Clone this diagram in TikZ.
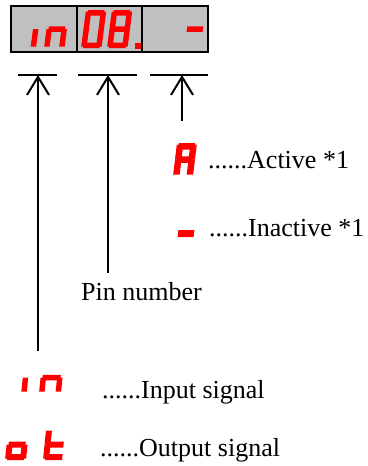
\documentclass[tikz,border=0pt]{standalone}
\usepackage{fontspec}
\setmainfont{Liberation Serif}
\usetikzlibrary{arrows.meta}

\definecolor{ledred}{RGB}{255,0,0}
\definecolor{panelgray}{RGB}{192,192,192}

% Seven-segment glyph: origin at the bottom-left of the cell,
% width \gW, height \gH, segment thickness \gT (y grows downward).
\newcommand\ssa{\fill[ledred] (2,-\gH) rectangle (\gW-2,-\gH+\gT);}
\newcommand\ssb{\fill[ledred] (\gW-\gT,-\gH+1.5) rectangle (\gW,-\gH/2);}
\newcommand\ssc{\fill[ledred] (\gW-\gT,-\gH/2) rectangle (\gW,-1.5);}
\newcommand\ssd{\fill[ledred] (2,-\gT) rectangle (\gW-2,0);}
\newcommand\sse{\fill[ledred] (0,-\gH/2) rectangle (\gT,-1.5);}
\newcommand\ssf{\fill[ledred] (0,-\gH+1.5) rectangle (\gT,-\gH/2);}
\newcommand\ssg{\fill[ledred] (2,-\gH/2-\gT/2) rectangle (\gW-2,-\gH/2+\gT/2);}
% #1 slant, (#2,#3) bottom-left, #4 width, #5 height, #6 thickness, #7 segments
\newcommand\sevseg[7]{%
  \begin{scope}[shift={(#2,#3)},xslant=#1]
    \def\gW{#4}\def\gH{#5}\def\gT{#6}%
    #7
  \end{scope}}

\begin{document}
\begin{tikzpicture}[x=1pt,y=-1pt,
    legend/.style={anchor=base west,inner sep=0pt,
      font=\fontsize{26}{30}\selectfont},
    bar/.style={line width=1.6pt},
    ptr/.style={line width=2pt,
      -{Straight Barb[length=18pt,width=22pt,line width=2pt]}}]
  \useasboundingbox (0,0) rectangle (367,466);

  % display panel with three fields
  \draw[fill=panelgray,line width=1.8pt] (11,6) rectangle (208,52);
  \draw[line width=1.8pt] (77,6) -- (77,52) (142,6) -- (142,52);

  % field 1: "in"
  \sevseg{0.13}{16}{48}{20}{38}{5.5}{\ssc}
  \sevseg{0.13}{44}{48}{20.5}{38}{5.5}{\ssc\sse\ssg}
  % field 2: "08."
  \sevseg{0.13}{81}{48}{20.5}{38}{5.5}{\ssa\ssb\ssc\ssd\sse\ssf}
  \sevseg{0.13}{107}{48}{20.5}{38}{5.5}{\ssa\ssb\ssc\ssd\sse\ssf\ssg}
  \fill[ledred] (135,42.5) rectangle (140.5,48.5);
  % field 3: "-"
  \sevseg{0.13}{182.5}{48}{20}{38}{5.5}{\ssg}

  % brackets under the fields
  \coordinate (b1l) at (18,75);  \coordinate (b1r) at (57,75);
  \coordinate (b2l) at (78,75);  \coordinate (b2r) at (137,75);
  \coordinate (b3l) at (150,75); \coordinate (b3r) at (208,75);
  \draw[bar] (b1l) -- (b1r);
  \draw[bar] (b2l) -- (b2r);
  \draw[bar] (b3l) -- (b3r);
  \coordinate (tip1) at (38,75);
  \coordinate (tip2) at (108,75);
  \coordinate (tip3) at (182,75);

  % legend for field 3
  \sevseg{0.12}{173}{176}{20}{33}{6.5}{\ssa\ssb\ssc\sse\ssf\ssg}
  \node[legend] (act) at (208,168) {......Active *1};
  \sevseg{0.12}{174}{250}{20}{33}{7}{\ssg}
  \node[legend] (inact) at (209,236) {......Inactive *1};

  % legend for field 2
  \node[legend] (pin) at (81,300) {Pin number};

  % legend for field 1
  \sevseg{0.1}{4.7}{393}{22}{31}{5.5}{\ssc}
  \sevseg{0.1}{39}{393}{22}{31}{5.5}{\ssc\sse\ssg}
  \node[legend] (insig) at (102,398) {......Input signal};
  \sevseg{0.1}{5}{460}{21}{31}{6}{\ssc\ssd\sse\ssg}
  \sevseg{0.1}{43}{460}{21}{31}{6}{\ssd\sse\ssf\ssg}
  \node[legend] (outsig) at (100,456) {......Output signal};

  % pointers
  \coordinate (tail1) at (38,351);
  \coordinate (tail2) at (108,273);
  \coordinate (tail3) at (182,121);
  \draw[ptr] (tail1) -- (tip1);
  \draw[ptr] (tail2) -- (tip2);
  \draw[ptr] (tail3) -- (tip3);
\end{tikzpicture}
\end{document}
